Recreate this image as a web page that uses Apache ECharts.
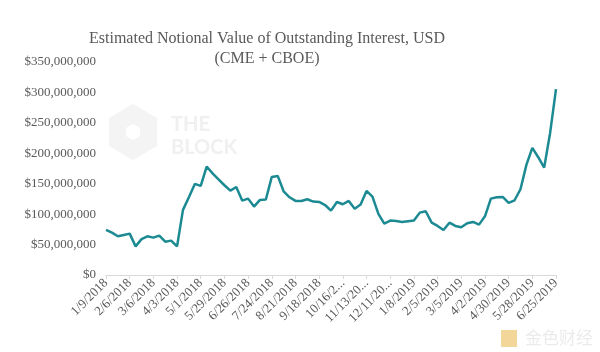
<!DOCTYPE html>
<html>
<head>
<meta charset="utf-8">
<script src="https://cdn.jsdelivr.net/npm/echarts@6/dist/echarts.min.js"></script>
<style>
  html, body { margin: 0; padding: 0; background: #fff; }
  #chart { width: 600px; height: 352px; }
</style>
</head>
<body>
<div id="chart"></div>
<script>
// weekly notional value, millions of USD, 1/9/2018 .. 6/25/2019
const values = [
  74, 69.6, 63.6, 65.8, 68, 47, 59, 63.6, 61.4, 64.7,
  54.8, 56.5, 47, 107, 127.7, 149.7, 146.4, 178.2, 167, 157,
  147.5, 138.7, 144.7, 122.3, 125.5, 112.4, 123.4, 124, 161.2, 162.8,
  137.6, 127.7, 121.7, 121.7, 124.5, 120.6, 120, 115, 105.8, 120,
  116.2, 121.7, 109, 115.7, 138.2, 128.8, 100.3, 84.4, 89.4, 88.8,
  87.2, 88.3, 89.4, 102.5, 104.7, 86, 80.6, 74, 86, 80.6,
  78.4, 85, 87.2, 82.8, 96.5, 125.5, 127.7, 128.3, 118.4, 122.8,
  140.9, 180.9, 208.9, 193.5, 176.5, 233, 305.4
];

// labels shown on the x axis, one every 4 weeks (as truncated in the original)
const tickLabels = [
  '1/9/2018', '2/6/2018', '3/6/2018', '4/3/2018', '5/1/2018',
  '5/29/2018', '6/26/2018', '7/24/2018', '8/21/2018', '9/18/2018',
  '10/16/2...', '11/13/20...', '12/11/20...', '1/8/2019', '2/5/2019',
  '3/5/2019', '4/2/2019', '4/30/2019', '5/28/2019', '6/25/2019'
];

const yTicks = [0, 50, 100, 150, 200, 250, 300, 350];

// weekly category dates
const start = new Date(2018, 0, 9);
const dates = values.map((_, i) => {
  const d = new Date(start.getTime() + i * 7 * 86400000);
  return (d.getMonth() + 1) + '/' + d.getDate() + '/' + d.getFullYear();
});

const serif = '"Liberation Serif", "DejaVu Serif", serif';
const grey = '#595959';

const chart = echarts.init(document.getElementById('chart'));

const option = {
  backgroundColor: '#fff',
  animation: false,
  grid: { left: 106, right: 44, top: 62, bottom: 77 },
  graphic: [
    // THE BLOCK watermark
    {
      type: 'polygon', z: 0,
      shape: { points: [[133, 104], [157, 118], [157, 146], [133, 160], [109, 146], [109, 118]] },
      style: { fill: '#f4f4f4' }
    },
    {
      type: 'polygon', z: 0,
      shape: { points: [[133, 124], [140, 128], [140, 136], [133, 140], [126, 136], [126, 128]] },
      style: { fill: '#fff' }
    },
    {
      type: 'text', z: 0, left: 171, top: 113,
      style: { text: 'THE\nBLOCK', font: 'bold 20px Lato, "DejaVu Sans", sans-serif', fill: '#f0f0f0', lineHeight: 23 }
    },
    // title
    {
      type: 'text', z: 5,
      style: {
        x: 267, y: 29, textAlign: 'center',
        text: 'Estimated Notional Value of Outstanding Interest, USD\n(CME + CBOE)',
        font: '16px ' + serif, fill: grey, lineHeight: 20
      }
    },
    // 金色财经 watermark
    {
      type: 'rect', z: 5,
      shape: { x: 501, y: 330, width: 16, height: 17 },
      style: { fill: '#f3d79a' }
    },
    {
      type: 'text', z: 5,
      style: { x: 525, y: 329, text: '金色财经', font: '17px "Noto Sans CJK SC", sans-serif', fill: '#ebebeb' }
    }
  ],
  xAxis: {
    type: 'category',
    data: dates,
    boundaryGap: false,
    axisLine: { lineStyle: { color: '#d9d9d9' } },
    axisTick: { interval: 3, length: 4, lineStyle: { color: '#d9d9d9' } },
    axisLabel: {
      interval: 3,
      rotate: 45,
      margin: 6,
      color: grey,
      fontFamily: serif,
      fontSize: 13,
      formatter: (v, i) => tickLabels[i / 4]
    }
  },
  yAxis: {
    type: 'value',
    min: yTicks[0],
    max: yTicks[yTicks.length - 1],
    interval: 50,
    axisLine: { show: false },
    axisTick: { show: false },
    splitLine: { show: false },
    axisLabel: {
      color: grey,
      fontFamily: serif,
      fontSize: 13,
      margin: 10,
      formatter: v => '$' + (v * 1000000).toLocaleString('en-US')
    }
  },
  series: [{
    type: 'line',
    data: values,
    showSymbol: false,
    lineStyle: { color: '#1b8a92', width: 2.5 },
    z: 3
  }]
};

chart.setOption(option);
</script>
</body>
</html>
